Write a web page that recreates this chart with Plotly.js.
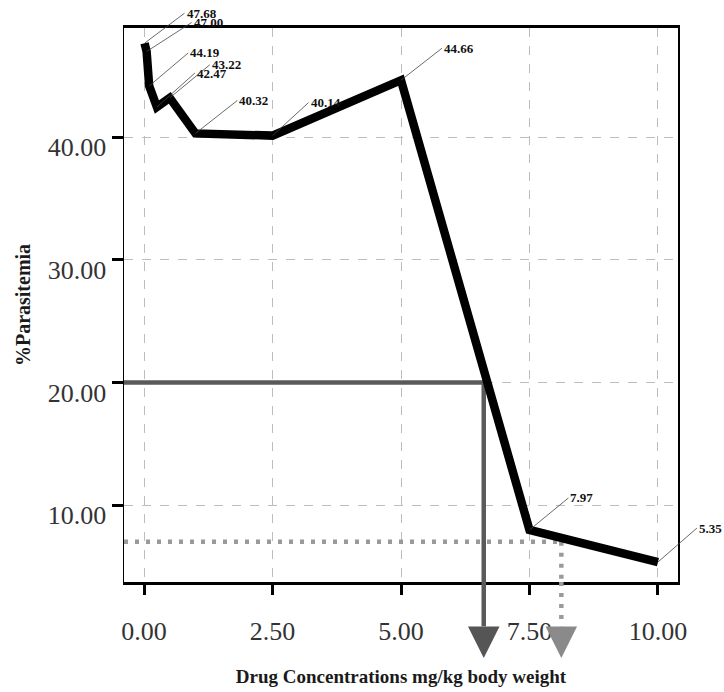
<!DOCTYPE html>
<html><head><meta charset="utf-8">
<script src="https://cdn.plot.ly/plotly-3.0.1.min.js"></script>
<style>html,body{margin:0;padding:0;background:#fff}</style>
</head><body><div id="chart" style="width:724px;height:692px"></div>
<script>
// ---- data ----
const doses = [0.01, 0.05, 0.1, 0.25, 0.5, 1, 2.5, 5, 7.5, 10];
const parasitemia = [47.68, 47.00, 44.19, 42.47, 43.22, 40.32, 40.14, 44.66, 7.97, 5.35];
const pointLabels = ['47.68', '47.00', '44.19', '42.47', '43.22', '40.32', '40.14', '44.66', '7.97', '5.35'];
const xTickVals = [0, 2.5, 5, 7.5, 10];
const xTickText = ['0.00', '2.50', '5.00', '7.50', '10.00'];
const yTickVals = [10, 20, 30, 40];
const yTickText = ['10.00', '20.00', '30.00', '40.00'];
const refLevels = [20, 7.0];
const refDoses = [6.61, 8.12];

// ---- styling / layout constants ----
const X_RANGE = [-0.39, 10.39];
const Y_RANGE = [3.72, 48.92];
const labelOffsets = [[40,-30],[45,-29],[39,-33],[38,-34],[40,-33],[42,-33],[36,-33],[41,-32],[39,-32],[39,-34]];
const refStyles = [
  {color: '#5a5a5a', dash: 'solid', width: 4.5, head: '#555555'},
  {color: '#9a9a9a', dash: '4px,7px', width: 4.5, head: '#8a8a8a'}
];
const SERIF = 'Liberation Serif, Times New Roman, serif';

const trace = {
  x: doses, y: parasitemia, type: 'scatter', mode: 'lines',
  line: {color: '#000', width: 8.5}, hoverinfo: 'skip', showlegend: false
};

const shapes = [];
const annotations = [];
refLevels.forEach((lvl, i) => {
  const st = refStyles[i];
  const line = {color: st.color, width: st.width, dash: st.dash};
  shapes.push({type: 'line', xref: 'x', yref: 'y', x0: X_RANGE[0], x1: refDoses[i], y0: lvl, y1: lvl, line, layer: 'between'});
  shapes.push({type: 'line', xref: 'x', yref: 'y', x0: refDoses[i], x1: refDoses[i], y0: lvl, y1: Y_RANGE[0], line, layer: 'between'});
  shapes.push({type: 'line', xref: 'x', yref: 'paper', x0: refDoses[i], x1: refDoses[i], y0: 0, y1: -0.08, line, layer: 'above'});
  annotations.push({xref: 'x', yref: 'paper', x: refDoses[i], y: -0.137, ax: 0, ay: -20, text: '',
    showarrow: true, arrowhead: 2, arrowsize: 1.4, arrowwidth: 4.5, arrowcolor: st.head});
});
pointLabels.forEach((t, i) => {
  annotations.push({xref: 'x', yref: 'y', x: doses[i], y: parasitemia[i], text: '<b>' + t + '</b>',
    ax: labelOffsets[i][0], ay: labelOffsets[i][1], xanchor: 'left', yanchor: 'middle',
    showarrow: true, arrowhead: 0, arrowwidth: 0.8, arrowcolor: '#444',
    font: {family: SERIF, size: 13, color: '#111'}});
});

const layout = {
  width: 724, height: 692,
  margin: {l: 124, r: 46, t: 28, b: 110},
  paper_bgcolor: '#fff', plot_bgcolor: '#fff',
  showlegend: false,
  xaxis: {
    range: X_RANGE, tickvals: xTickVals, ticktext: xTickText,
    showline: true, linecolor: '#000', linewidth: 3, mirror: true,
    ticks: 'outside', ticklen: 10, tickwidth: 3, tickcolor: '#000',
    showgrid: true, gridcolor: '#bdbdbd', gridwidth: 1, griddash: 'dash',
    zeroline: false, ticklabelstandoff: 14,
    tickfont: {family: SERIF, size: 26, color: '#333'},
    title: {text: '<b>Drug Concentrations mg/kg body weight</b>', font: {family: SERIF, size: 19, color: '#1a1a1a'}, standoff: 25}
  },
  yaxis: {
    range: Y_RANGE, tickvals: yTickVals, ticktext: yTickText,
    showline: true, linecolor: '#000', linewidth: 1.5, mirror: true,
    ticks: 'outside', ticklen: 11, tickwidth: 3, tickcolor: '#000',
    showgrid: true, gridcolor: '#bdbdbd', gridwidth: 1, griddash: 'dash',
    zeroline: false, ticklabelshift: 10,
    tickfont: {family: SERIF, size: 26, color: '#333'},
    title: {text: '<b>%Parasitemia</b>', font: {family: SERIF, size: 20, color: '#1a1a1a'}, standoff: 12}
  },
  shapes, annotations
};

Plotly.newPlot('chart', [trace], layout, {displayModeBar: false, staticPlot: true});
</script>
</body></html>
